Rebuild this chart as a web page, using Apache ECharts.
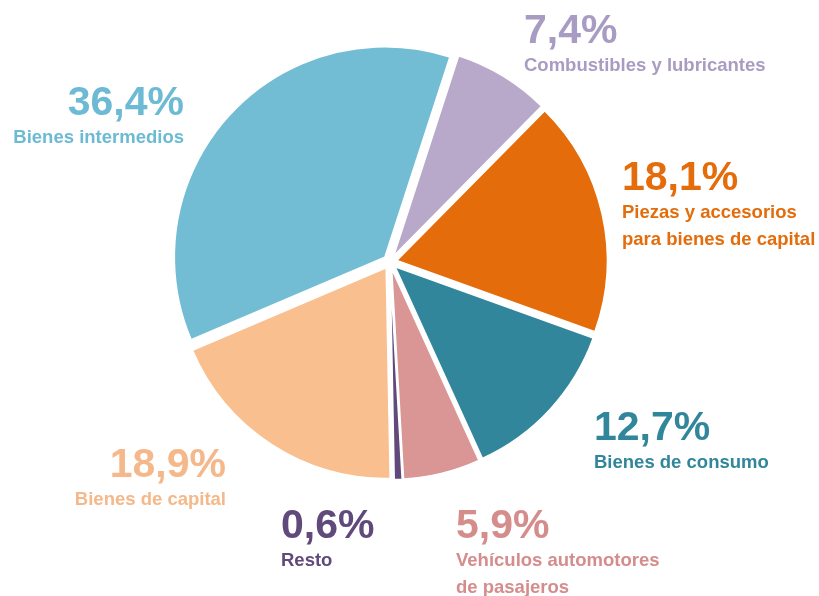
<!DOCTYPE html>
<html>
<head>
<meta charset="utf-8">
<script src="https://cdn.jsdelivr.net/npm/echarts@6/dist/echarts.min.js"></script>
<style>
  html, body { margin: 0; padding: 0; background: #fff; }
  #chart { width: 819px; height: 596px; }
</style>
</head>
<body>
<div id="chart"></div>
<script>
// datos en orden horario, empezando por combustibles
var categories = ['Combustibles y lubricantes', 'Piezas y accesorios\npara bienes de capital', 'Bienes de consumo', 'Vehículos automotores\nde pasajeros', 'Resto', 'Bienes de capital', 'Bienes intermedios']
var values = [7.4, 18.1, 12.7, 5.9, 0.6, 18.9, 36.4]
var pctLabels = ['7,4%', '18,1%', '12,7%', '5,9%', '0,6%', '18,9%', '36,4%']
var colors = ['#b8a9cb', '#e46c0a', '#31869b', '#d99694', '#604a7b', '#f9bf8f', '#72bcd4']
var textColors = ['#a99cc2', '#e46c0a', '#31869b', '#d58d8c', '#604a7b', '#f5b88a', '#6cbad3']

// posición de cada etiqueta (x, y superior, alineación)
var labelPos = [
  [524, 11, 'left'],
  [622, 158, 'left'],
  [594, 408, 'left'],
  [456, 506, 'left'],
  [281, 506, 'left'],
  [226, 445, 'right'],
  [184, 83, 'right']
]

var chart = echarts.init(document.getElementById('chart'))

var fontFam = '"Liberation Sans", Arial, sans-serif'

var seriesData = values.map(function (v, i) {
  return {
    name: categories[i],
    value: v,
    selected: true,
    itemStyle: { color: colors[i] }
  }
})

// etiquetas como texto
var labels = values.map(function (v, i) {
  return {
    type: 'text',
    x: labelPos[i][0],
    y: labelPos[i][1],
    silent: true,
    style: {
      text: '{p|' + pctLabels[i] + '}\n{n|' + categories[i].split('\n').join('}\n{n|') + '}',
      align: labelPos[i][2],
      verticalAlign: 'top',
      rich: {
        p: { fontSize: 41, fontWeight: 'bold', lineHeight: 41, fill: textColors[i], fontFamily: fontFam, align: labelPos[i][2] },
        n: { fontSize: 18.5, fontWeight: 'bold', lineHeight: 27, fill: textColors[i], fontFamily: fontFam, align: labelPos[i][2] }
      }
    }
  }
})

var option = {
  animation: false,
  graphic: labels,
  series: [
    {
      type: 'pie',
      center: [390, 262],
      radius: [0, 210.5],
      startAngle: 72,
      clockwise: true,
      selectedMode: 'multiple',
      selectedOffset: 7,
      avoidLabelOverlap: false,
      itemStyle: {
        borderColor: '#fff',
        borderWidth: 1.5
      },
      label: { show: false },
      labelLine: { show: false },
      emphasis: { disabled: true },
      data: seriesData
    }
  ]
}

chart.setOption(option)
</script>
</body>
</html>
